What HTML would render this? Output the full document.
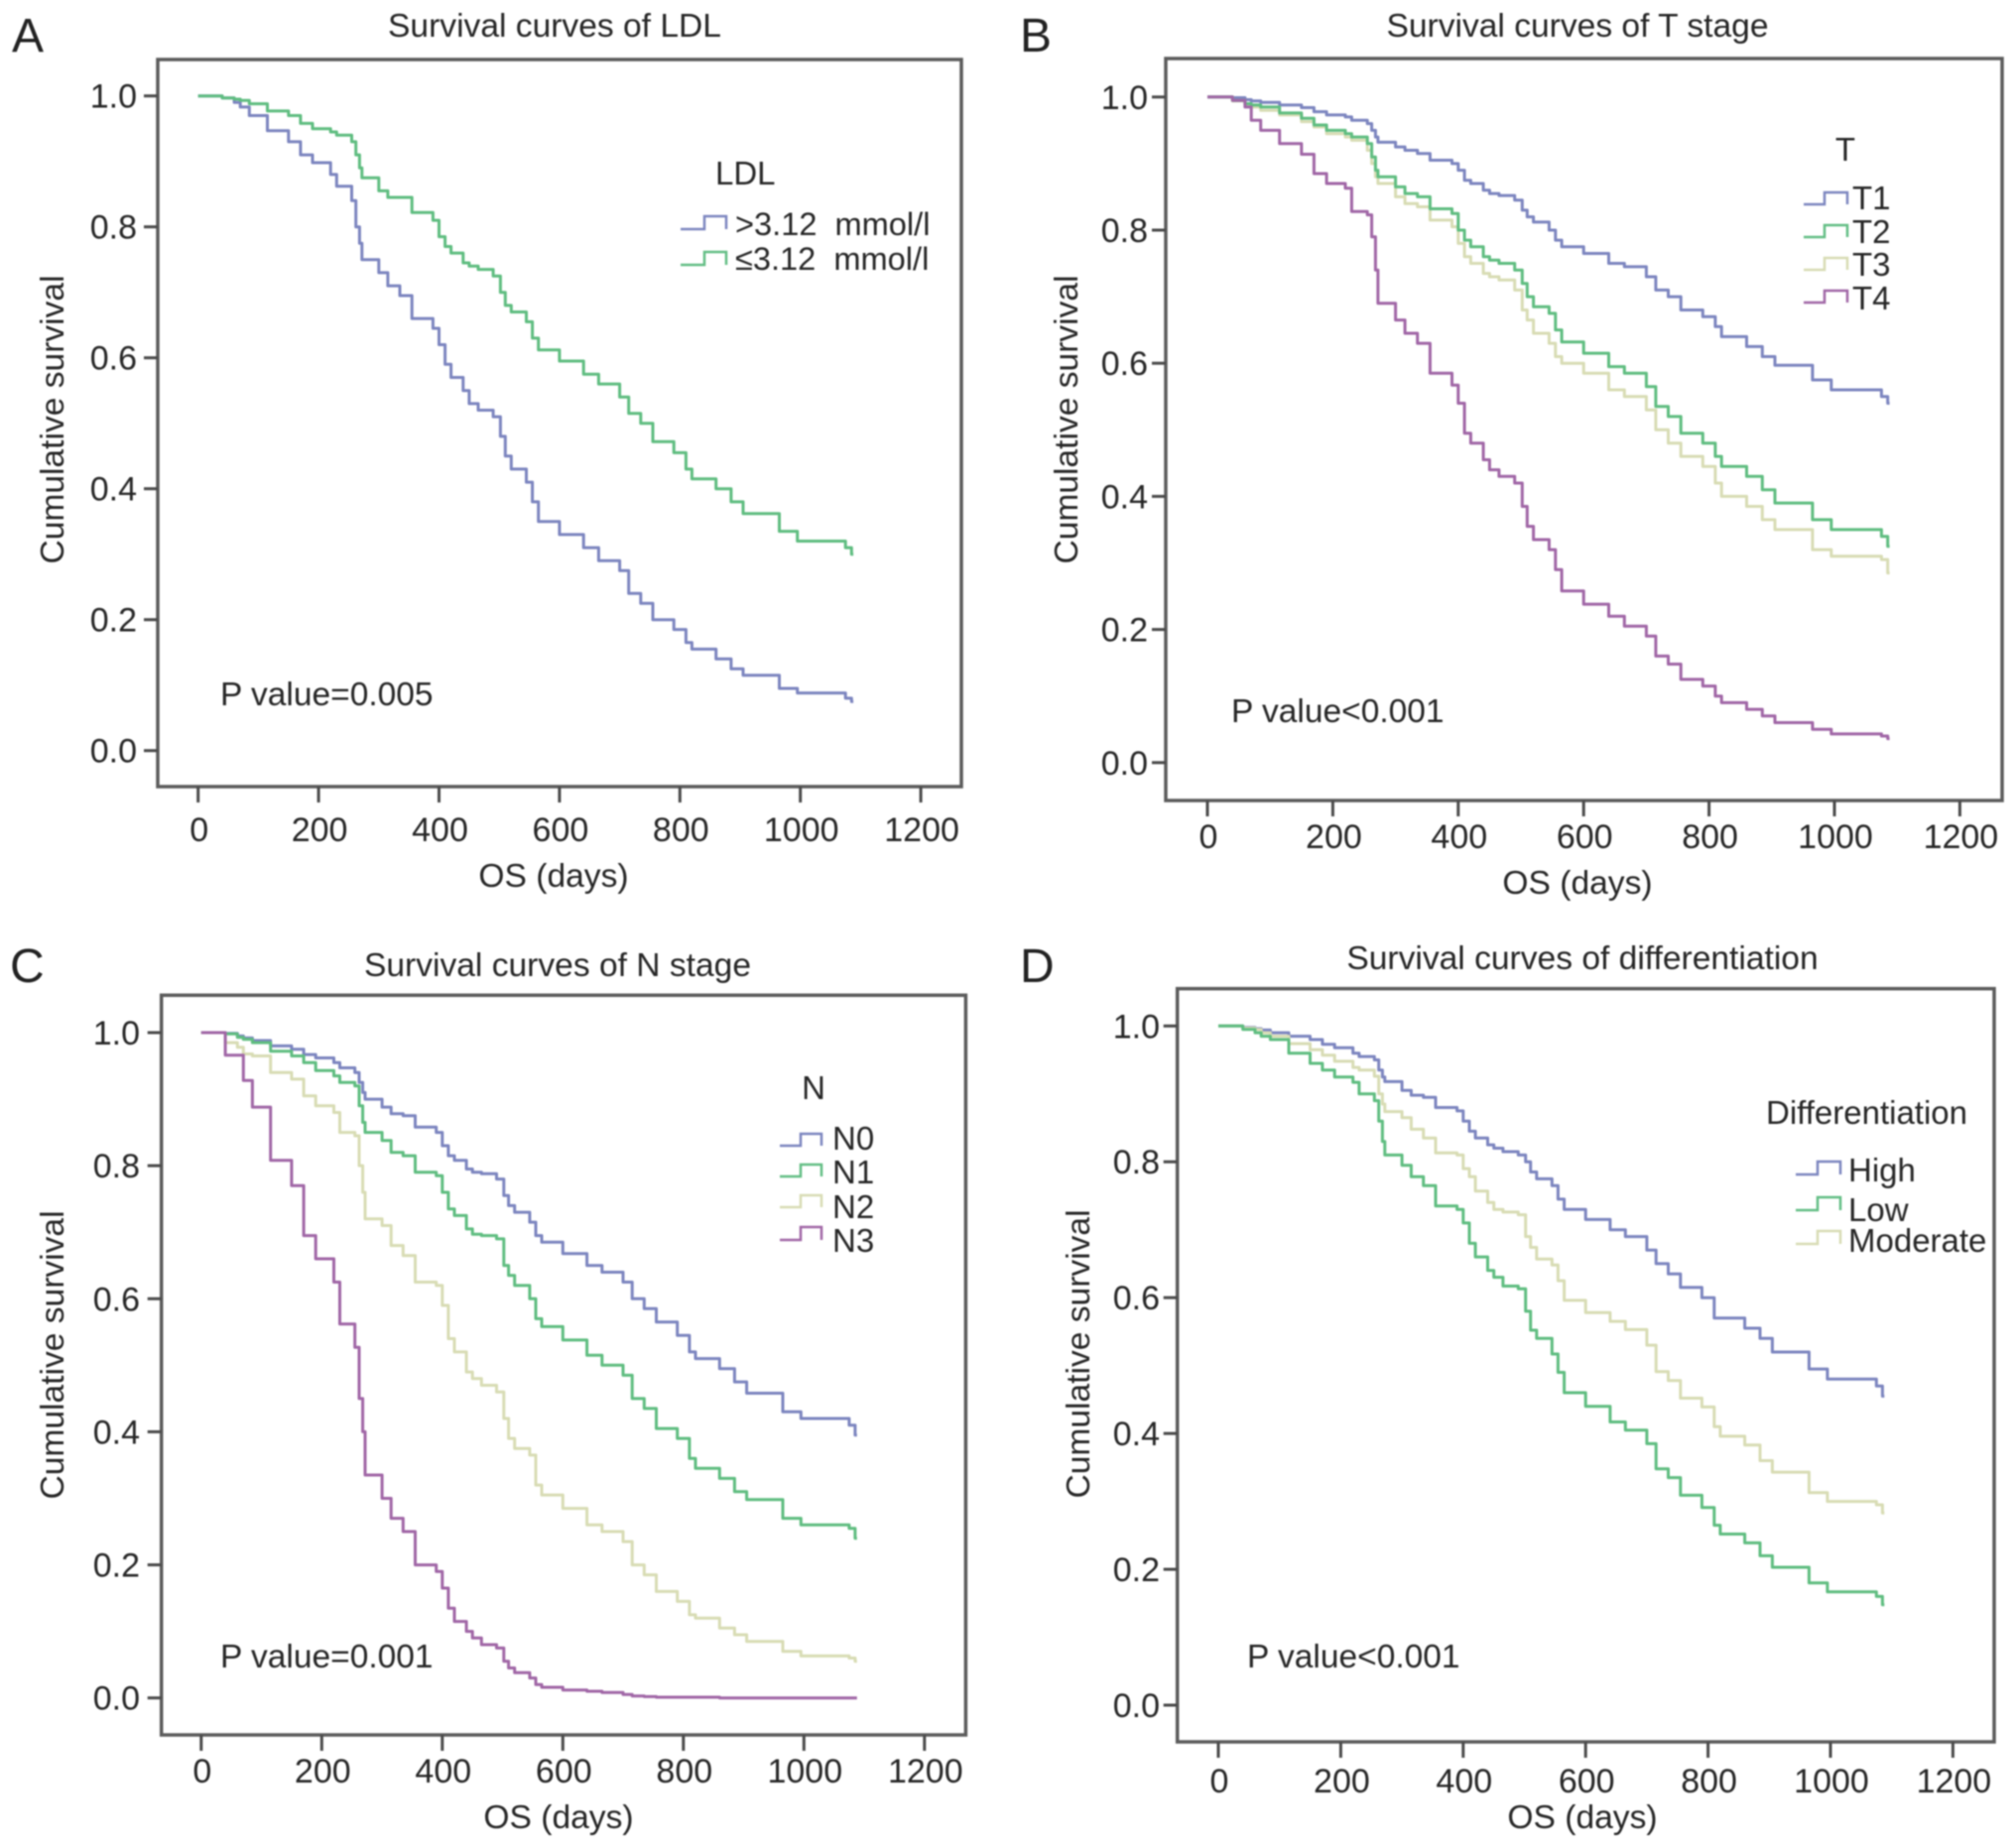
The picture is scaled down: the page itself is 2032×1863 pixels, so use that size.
<!DOCTYPE html>
<html>
<head>
<meta charset="utf-8">
<title>Survival curves</title>
<style>
html,body{margin:0;padding:0;background:#fff;}
svg{display:block;filter:blur(0.8px);}
text{font-family:"Liberation Sans",Arial,sans-serif;fill:#262626;}
.title,.axt{font-size:33.6px;}
.tick{font-size:34px;}
.leg{font-size:33px;}
.legmm{font-size:32.6px;}
.pval{font-size:33.5px;}
.letter{font-size:48px;fill:#222;}
.frame{fill:#fff;stroke:#5c5c5c;stroke-width:3.5;}
</style>
</head>
<body>
<svg id="figure" xmlns="http://www.w3.org/2000/svg" width="2032" height="1863" viewBox="0 0 2032 1863">
<rect x="0" y="0" width="2032" height="1863" fill="#fff"/>

<g id="panel-a">
<rect class="frame" x="159" y="60" width="810" height="733"/>
<text class="letter" x="12" y="52">A</text>
<text class="title" x="559" y="37" text-anchor="middle">Survival curves of LDL</text>
<text class="axt" x="558" y="894" text-anchor="middle">OS (days)</text>
<text class="axt" transform="translate(64,423) rotate(-90)" text-anchor="middle">Cumulative survival</text>
<text class="pval" x="222" y="711">P value=0.005</text>
<text class="leg" x="721" y="186">LDL</text>
<g>
<path d="M686 231H710V218H732V231" fill="none" stroke="#7c85bf" stroke-width="2.5"/>
<text class="legmm" x="741" y="237">&gt;3.12&#160;&#160;mmol/l</text>
</g>
<g>
<path d="M686 267H710V254H732V267" fill="none" stroke="#62be84" stroke-width="2.5"/>
<text class="legmm" x="741" y="272">≤3.12&#160;&#160;mmol/l</text>
</g>
</g>

<g id="panel-b">
<rect class="frame" x="1175" y="59" width="843" height="748"/>
<text class="letter" x="1028" y="52">B</text>
<text class="title" x="1590" y="37" text-anchor="middle">Survival curves of T stage</text>
<text class="axt" x="1590" y="901" text-anchor="middle">OS (days)</text>
<text class="axt" transform="translate(1086,423) rotate(-90)" text-anchor="middle">Cumulative survival</text>
<text class="pval" x="1241" y="728">P value&lt;0.001</text>
<text class="leg" x="1860" y="162" text-anchor="middle">T</text>
<g>
<path d="M1818 206H1839V194H1862V206" fill="none" stroke="#7c85bf" stroke-width="2.5"/>
<text class="leg" x="1867" y="211">T1</text>
</g>
<g>
<path d="M1818 239H1839V227H1862V239" fill="none" stroke="#62be84" stroke-width="2.5"/>
<text class="leg" x="1867" y="245">T2</text>
</g>
<g>
<path d="M1818 272H1839V260H1862V272" fill="none" stroke="#d8dcb4" stroke-width="2.5"/>
<text class="leg" x="1867" y="278">T3</text>
</g>
<g>
<path d="M1818 305H1839V293H1862V305" fill="none" stroke="#a066a6" stroke-width="2.5"/>
<text class="leg" x="1867" y="312">T4</text>
</g>
</g>

<g id="panel-c">
<rect class="frame" x="162.7" y="1003.3" width="810.7" height="745.7"/>
<text class="letter" x="10" y="990">C</text>
<text class="title" x="562" y="984" text-anchor="middle">Survival curves of N stage</text>
<text class="axt" x="563" y="1843" text-anchor="middle">OS (days)</text>
<text class="axt" transform="translate(64,1366) rotate(-90)" text-anchor="middle">Cumulative survival</text>
<text class="pval" x="222" y="1681">P value=0.001</text>
<text class="leg" x="820" y="1108" text-anchor="middle">N</text>
<g>
<path d="M786 1155H807V1143H828V1155" fill="none" stroke="#7c85bf" stroke-width="2.5"/>
<text class="leg" x="839" y="1159">N0</text>
</g>
<g>
<path d="M786 1186H807V1174H828V1186" fill="none" stroke="#62be84" stroke-width="2.5"/>
<text class="leg" x="839" y="1193">N1</text>
</g>
<g>
<path d="M786 1217H807V1205H828V1217" fill="none" stroke="#d8dcb4" stroke-width="2.5"/>
<text class="leg" x="839" y="1228">N2</text>
</g>
<g>
<path d="M786 1250H807V1237H828V1250" fill="none" stroke="#a066a6" stroke-width="2.5"/>
<text class="leg" x="839" y="1262">N3</text>
</g>
</g>

<g id="panel-d">
<rect class="frame" x="1186.7" y="996.7" width="823.3" height="759.3"/>
<text class="letter" x="1028" y="990">D</text>
<text class="title" x="1595" y="977" text-anchor="middle">Survival curves of differentiation</text>
<text class="axt" x="1595" y="1843" text-anchor="middle">OS (days)</text>
<text class="axt" transform="translate(1098,1365) rotate(-90)" text-anchor="middle">Cumulative survival</text>
<text class="pval" x="1257" y="1681">P value&lt;0.001</text>
<text class="leg" x="1780" y="1133">Differentiation</text>
<g>
<path d="M1810 1184H1832V1171H1855V1184" fill="none" stroke="#7c85bf" stroke-width="2.5"/>
<text class="leg" x="1863" y="1191">High</text>
</g>
<g>
<path d="M1810 1220H1832V1207H1855V1220" fill="none" stroke="#62be84" stroke-width="2.5"/>
<text class="leg" x="1863" y="1231">Low</text>
</g>
<g>
<path d="M1810 1254H1832V1241H1855V1254" fill="none" stroke="#d8dcb4" stroke-width="2.5"/>
<text class="leg" x="1863" y="1262">Moderate</text>
</g>
</g>
</svg>

<script>
// ---- Chart data ----
const eventDays = [
  0,40,60,70,85,115,150,170,190,220,
  230,255,262,268,272,300,315,335,355,390,
  400,410,420,440,450,465,490,502,510,520,
  545,555,565,600,640,665,700,715,735,755,
  790,810,820,860,885,905,965,995,1075,1085
];
const xTickLabels = [0,200,400,600,800,1000,1200];
const yTickLabels = ["0.0","0.2","0.4","0.6","0.8","1.0"];

const ldlHigh = [
  1,.997,.99,.983,.97,.947,.93,.91,.898,.88,
  .862,.84,.80,.775,.75,.73,.71,.695,.66,.645,
  .62,.59,.57,.55,.53,.52,.51,.48,.45,.43,
  .41,.38,.35,.33,.31,.29,.275,.24,.225,.20,
  .185,.165,.155,.14,.125,.115,.095,.088,.08,.075
];
const ldlLow = [
  1,.997,.995,.993,.988,.977,.97,.958,.95,.945,
  .94,.93,.91,.89,.875,.855,.845,.845,.822,.81,
  .785,.77,.76,.745,.74,.735,.725,.70,.68,.67,
  .655,.63,.612,.595,.575,.56,.54,.515,.50,.472,
  .455,.43,.415,.40,.38,.362,.335,.32,.31,.30
];
const t1 = [
  1,.999,.996,.994,.992,.988,.984,.978,.973,.97,
  .965,.96,.95,.94,.932,.925,.92,.915,.905,.90,
  .89,.875,.87,.86,.855,.852,.845,.83,.82,.812,
  .80,.785,.775,.765,.75,.745,.73,.71,.70,.68,
  .67,.655,.64,.625,.61,.597,.575,.56,.55,.54
];
const t2 = [
  1,.995,.99,.988,.985,.976,.968,.958,.95,.945,
  .94,.93,.91,.89,.88,.865,.855,.85,.832,.825,
  .80,.785,.775,.76,.755,.75,.74,.72,.70,.685,
  .675,.65,.632,.615,.595,.585,.565,.535,.52,.495,
  .48,.46,.445,.43,.41,.39,.365,.35,.34,.325
];
const t3 = [
  1,.994,.988,.985,.98,.973,.963,.955,.945,.94,
  .935,.92,.90,.88,.87,.85,.84,.835,.815,.805,
  .78,.76,.75,.735,.73,.725,.71,.68,.665,.645,
  .63,.61,.60,.585,.56,.55,.53,.50,.48,.46,
  .445,.42,.40,.385,.365,.35,.32,.31,.305,.285
];
const t4 = [
  1,.995,.985,.965,.95,.93,.914,.885,.87,.863,
  .828,.823,.79,.74,.69,.665,.645,.63,.585,.567,
  .54,.495,.48,.455,.44,.43,.42,.385,.355,.335,
  .32,.29,.258,.238,.22,.205,.19,.16,.148,.125,
  .115,.10,.09,.08,.07,.06,.05,.043,.04,.036
];
const n0 = [
  1,.999,.995,.992,.988,.98,.975,.967,.962,.955,
  .947,.94,.925,.91,.90,.888,.878,.875,.858,.85,
  .83,.815,.808,.795,.79,.788,.78,.755,.74,.73,
  .715,.695,.685,.668,.65,.64,.625,.60,.585,.565,
  .545,.52,.51,.495,.475,.458,.43,.42,.41,.395
];
const n1 = [
  1,.998,.993,.99,.985,.972,.965,.955,.943,.935,
  .925,.92,.89,.865,.85,.838,.82,.815,.79,.785,
  .76,.735,.725,.705,.697,.695,.69,.65,.635,.62,
  .60,.57,.558,.538,.515,.50,.485,.45,.435,.405,
  .39,.36,.345,.33,.31,.298,.27,.26,.255,.24
];
const n2 = [
  1,.985,.978,.968,.965,.94,.93,.905,.89,.88,
  .85,.845,.80,.76,.72,.71,.68,.665,.625,.62,
  .59,.54,.52,.49,.48,.47,.46,.42,.39,.375,
  .365,.32,.305,.285,.26,.25,.235,.20,.185,.16,
  .145,.125,.12,.105,.095,.085,.07,.063,.06,.055
];
const n3 = [
  1,.966,.966,.928,.888,.808,.77,.695,.66,.625,
  .562,.527,.45,.40,.335,.30,.27,.25,.20,.19,
  .165,.135,.115,.10,.09,.08,.075,.055,.045,.038,
  .03,.02,.016,.012,.01,.008,.005,.003,.002,.001,
  .001,.001,.001,0,0,0,0,0,0,0
];
const diffHigh = [
  1,.998,.996,.994,.99,.985,.98,.973,.968,.96,
  .955,.95,.935,.925,.918,.905,.898,.895,.88,.875,
  .86,.845,.835,.825,.82,.815,.81,.80,.785,.775,
  .765,.745,.73,.715,.70,.69,.67,.65,.635,.615,
  .60,.57,.57,.555,.54,.52,.495,.48,.47,.455
];
const diffLow = [
  1,.995,.99,.985,.98,.96,.945,.935,.925,.917,
  .90,.89,.86,.83,.81,.795,.778,.765,.735,.73,
  .71,.68,.66,.64,.63,.617,.613,.58,.552,.54,
  .517,.49,.46,.44,.417,.405,.385,.348,.335,.309,
  .291,.265,.252,.239,.22,.203,.18,.167,.16,.148
];
const diffModerate = [
  1,.997,.995,.99,.985,.974,.965,.957,.948,.939,
  .935,.926,.90,.885,.874,.865,.848,.835,.813,.81,
  .79,.778,.757,.74,.73,.726,.722,.69,.674,.657,
  .648,.625,.596,.578,.565,.553,.53,.491,.478,.452,
  .439,.41,.396,.383,.36,.343,.313,.30,.295,.283
];

// ---- Layout ----
const BLUE = "#7c85bf", GREEN = "#5fbd80", KHAKI = "#d8dcb4", PURPLE = "#a066a6";
const panels = [
  {id:"a", x0:199.7, xStep:121.4, y0:756.7, y1:96.7, left:159, bottom:793, xLabelY:848, yLabelX:138,
   series:[["ldl-high",ldlHigh,BLUE],["ldl-low",ldlLow,GREEN]]},
  {id:"b", x0:1217, xStep:126.4, y0:768.8, y1:97.8, left:1175, bottom:807, xLabelY:855, yLabelX:1157,
   series:[["t1",t1,BLUE],["t3",t3,KHAKI],["t2",t2,GREEN],["t4",t4,PURPLE]]},
  {id:"c", x0:202.8, xStep:121.5, y0:1711.7, y1:1041, left:162.7, bottom:1749, xLabelY:1797, yLabelX:141,
   series:[["n0",n0,BLUE],["n1",n1,GREEN],["n2",n2,KHAKI],["n3",n3,PURPLE]]},
  {id:"d", x0:1228, xStep:123.4, y0:1719, y1:1034.3, left:1186.7, bottom:1756, xLabelY:1807, yLabelX:1169,
   series:[["diff-high",diffHigh,BLUE],["diff-moderate",diffModerate,KHAKI],["diff-low",diffLow,GREEN]]}
];

const SVGNS = "http://www.w3.org/2000/svg";

function xScale(p, day) { return p.x0 + day / 200 * p.xStep; }
function yScale(p, s) { return p.y0 + s * (p.y1 - p.y0); }

function drawPanel(p) {
  const host = document.getElementById("panel-" + p.id);

  xTickLabels.forEach(function (v) {
    const x = xScale(p, v);
    const mark = document.createElementNS(SVGNS, "line");
    
    
    mark.setAttribute("x1", x); mark.setAttribute("x2", x);
    mark.setAttribute("y1", p.bottom); mark.setAttribute("y2", p.bottom + 16);
    mark.setAttribute("stroke", "#4a4a4a"); mark.setAttribute("stroke-width", "3");
    host.appendChild(mark);
    const label = document.createElementNS(SVGNS, "text");
    
    
    label.setAttribute("class", "tick");
    label.setAttribute("x", x + 1); label.setAttribute("y", p.xLabelY);
    label.setAttribute("text-anchor", "middle");
    label.textContent = v;
    host.appendChild(label);
  });

  yTickLabels.forEach(function (v) {
    const y = yScale(p, parseFloat(v));
    const mark = document.createElementNS(SVGNS, "line");
    
    
    mark.setAttribute("x1", p.left - 14); mark.setAttribute("x2", p.left);
    mark.setAttribute("y1", y); mark.setAttribute("y2", y);
    mark.setAttribute("stroke", "#4a4a4a"); mark.setAttribute("stroke-width", "3");
    host.appendChild(mark);
    const label = document.createElementNS(SVGNS, "text");
    
    
    label.setAttribute("class", "tick");
    label.setAttribute("x", p.yLabelX); label.setAttribute("y", y + 12);
    label.setAttribute("text-anchor", "end");
    label.textContent = v;
    host.appendChild(label);
  });

  p.series.forEach(function (s) {
    const values = s[1];
    let d = "M" + xScale(p, eventDays[0]).toFixed(1) + " " + yScale(p, values[0]).toFixed(1);
    for (let i = 1; i < eventDays.length; i++) {
      d += "H" + xScale(p, eventDays[i]).toFixed(1) + "V" + yScale(p, values[i]).toFixed(1);
    }
    d += "H" + xScale(p, 1088).toFixed(1);
    const curve = document.createElementNS(SVGNS, "path");
    
    
    curve.setAttribute("d", d);
    curve.setAttribute("fill", "none");
    curve.setAttribute("stroke", s[2]);
    curve.setAttribute("stroke-width", "3");
    curve.setAttribute("stroke-linejoin", "round");
    host.appendChild(curve);
  });
}

panels.forEach(drawPanel);
</script>
</body>
</html>
